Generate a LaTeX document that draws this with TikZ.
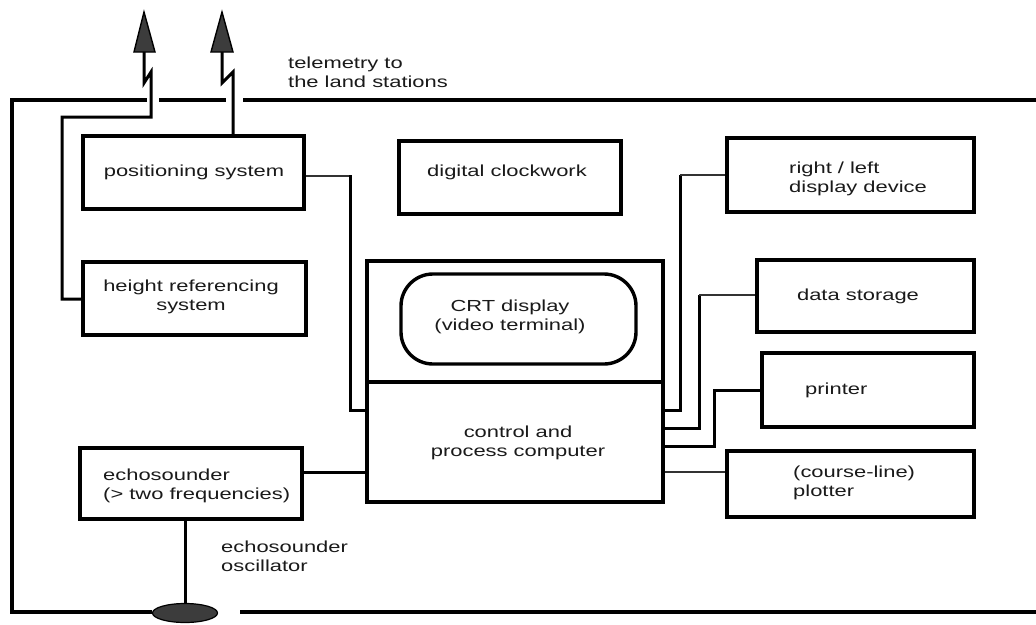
\documentclass[tikz,border=0pt]{standalone}
\usepackage{fontspec}
\setmainfont{Liberation Sans}[FakeStretch=1.37]
\usetikzlibrary{shapes.geometric}
\definecolor{ink}{HTML}{1A1A1A}
\definecolor{fillgrey}{HTML}{3C3C3C}
\tikzset{
  box/.style={draw=black, line width=3.4pt, rectangle, inner sep=0pt},
  txt/.style={text=ink, font=\fontsize{16}{19}\selectfont, inner sep=0pt},
  conn/.style={draw=black, line width=3pt},
  thinconn/.style={draw=black!80, line width=1.8pt},
  frame/.style={draw=black, line width=3.4pt},
  antenna/.style={fill=fillgrey, draw=black, line width=1.4pt, line join=miter},
}
\begin{document}
\begin{tikzpicture}[x=1pt,y=-1pt]
\useasboundingbox (0,0) rectangle (1036,624);
\fill[white] (0,0) rectangle (1036,624);

% boxes
\node[box, minimum width=221pt, minimum height=73pt] (pos) at (193.5,172.5) {};
\node[box, minimum width=223pt, minimum height=73pt] (hgt) at (194.5,298.5) {};
\node[box, minimum width=222pt, minimum height=73pt] (clk) at (510,177.5) {};
\node[box, minimum width=247pt, minimum height=74pt] (rl) at (850.5,175) {};
\node[box, minimum width=217pt, minimum height=72pt] (ds) at (865.5,296) {};
\node[box, minimum width=212pt, minimum height=74pt] (pr) at (868,390) {};
\node[box, minimum width=247pt, minimum height=66pt] (pl) at (850.5,484) {};
\node[box, minimum width=296pt, minimum height=121pt] (mon) at (515,321.5) {};
\node[box, minimum width=296pt, minimum height=120pt] (comp) at (515,442) {};
\node[box, rounded corners=32pt, minimum width=235pt, minimum height=90pt] (crt) at (518.5,319) {};
\node[box, minimum width=222pt, minimum height=71pt] (echo) at (191,483.5) {};
\node[ellipse, fill=fillgrey, draw=black, line width=1.2pt, minimum width=65pt, minimum height=19pt, inner sep=0pt] (osc) at (185,613) {};

% texts
\node[txt, anchor=west, align=left] (tele) at (288,72.5) {telemetry to\\the land stations};
\node[txt] (posT) at (194,172) {positioning system};
\node[txt, align=center] (hgtT) at (191,296.5) {height referencing\\system};
\node[txt] (clkT) at (507,172) {digital clockwork};
\node[txt, align=center] (crtT) at (510,316.5) {CRT display\\(video terminal)};
\node[txt, align=center] (compT) at (518,443) {control and\\process computer};
\node[txt, anchor=west, align=left] (rlT) at (789,178.5) {right / left\\display device};
\node[txt] (dsT) at (858,296) {data storage};
\node[txt, anchor=west] (prT) at (805,390) {printer};
\node[txt, anchor=west, align=left] (plT) at (793,482.5) {(course-line)\\plotter};
\node[txt, anchor=west, align=left] (echoT) at (103,486) {echosounder\\(> two frequencies)};
\node[txt, anchor=west, align=left] (oscT) at (221,556) {echosounder\\oscillator};

% outer frame
\draw[frame] (147,100) -- (12,100) -- (12,612) -- (osc.west |- 0,612);
\draw[frame] (159,100) -- (226,100);
\draw[frame] (243,100) -- (1036,100);
\draw[frame] (240,612) -- (1036,612);

% antennas
\draw[conn, line join=miter] (hgt.west |- 0,299) -- (62,299) -- (62,117) -- (151,117) -- (151,72) -- (144,83) -- (144,52);
\draw[antenna] (134,52) -- (144,12) -- (155,52) -- cycle;
\draw[conn, line join=miter] (pos.north -| 233,0) -- (233,72) -- (222,83) -- (222,52);
\draw[antenna] (211,52) -- (222,12) -- (233,52) -- cycle;

% left connectors
\draw[thinconn] (pos.east |- 0,176) -- (350,176);
\draw[conn] (350,175) -- (350,410) -- (comp.west |- 0,410);
\draw[conn] (echo.east |- 0,472) -- (comp.west |- 0,472);
\draw[conn] (osc.north) -- (osc.north |- echo.south);

% right connectors
\draw[conn] (comp.east |- 0,410) -- (680,410) -- (680,175);
\draw[thinconn] (680,175) -- (rl.west |- 0,175);
\draw[conn] (comp.east |- 0,428) -- (699,428) -- (699,295);
\draw[thinconn] (699,295) -- (ds.west |- 0,295);
\draw[conn] (comp.east |- 0,446) -- (714,446) -- (714,390) -- (pr.west |- 0,390);
\draw[thinconn] (comp.east |- 0,472) -- (pl.west |- 0,472);
\end{tikzpicture}
\end{document}
